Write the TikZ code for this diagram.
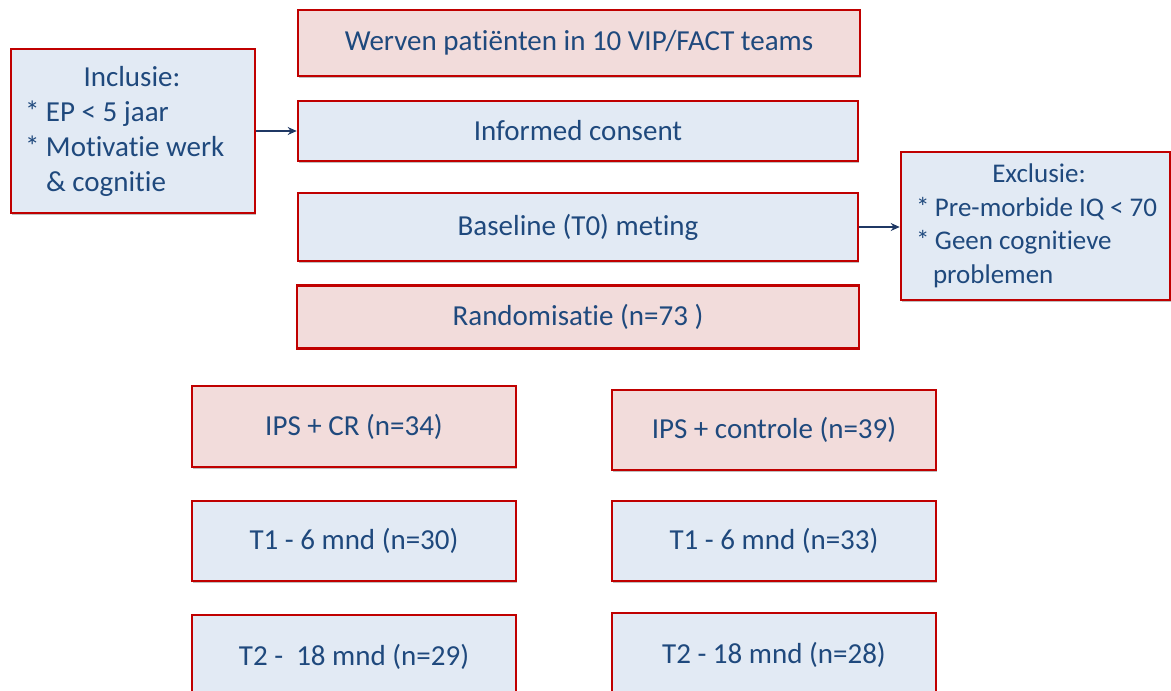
\documentclass[tikz,border=0pt]{standalone}
\usepackage{fontspec}
\setmainfont{Carlito}[Ligatures=NoCommon]
\usetikzlibrary{shadows,arrows.meta}
\definecolor{bord}{HTML}{C00000}
\definecolor{pinkf}{HTML}{F2DCDB}
\definecolor{bluef}{HTML}{E2EAF4}
\definecolor{txt}{HTML}{1F497D}
\definecolor{arrowc}{HTML}{1F3864}
\newcommand{\blt}[1]{\makebox[#1][l]{*}}
\begin{document}
\begin{tikzpicture}[x=1pt,y=-1pt,
  box/.style={draw=bord, line width=2.6pt, text=txt, inner sep=0pt,
    font=\fontsize{29}{35}\selectfont,
    drop shadow={shadow xshift=1.2pt, shadow yshift=-1.5pt, fill=black, opacity=0.25}},
  pinkbox/.style={box, fill=pinkf},
  bluebox/.style={box, fill=bluef},
  conn/.style={draw=arrowc, line width=1.3pt, -{Stealth[length=9pt,width=8pt]}}]
\useasboundingbox (0,0) rectangle (1171,691);
% central column
\node[pinkbox, minimum width=562pt, minimum height=66pt] (werven) at (579,43) {Werven patiënten in 10 VIP/FACT teams};
\node[bluebox, minimum width=560pt, minimum height=60pt] (consent) at (578,131) {Informed consent};
\node[bluebox, minimum width=560pt, minimum height=68pt] (base) at (578,227) {Baseline (T0) meting};
\node[pinkbox, minimum width=562pt, minimum height=63pt] (rand) at (578,317) {Randomisatie (n=73 )};
% side boxes
\node[bluebox, minimum width=244pt, minimum height=164pt, text width=216pt, align=flush left] (incl) at (133,131)
  {\makebox[214pt]{Inclusie:}\\\mbox{\blt{21pt}EP < 5 jaar}\\\mbox{\blt{21pt}Motivatie werk}\\\mbox{\hspace{21pt}\& cognitie}};
\node[bluebox, minimum width=269pt, minimum height=148pt, text width=239pt, align=flush left,
  font=\fontsize{27}{33.5}\selectfont] (excl) at (1035.5,226)
  {\makebox[246pt]{Exclusie:}\\\mbox{\blt{19pt}Pre-morbide IQ < 70}\\\mbox{\blt{19pt}Geen cognitieve}\\\mbox{\hspace{17pt}problemen}};
% arms
\node[pinkbox, minimum width=324pt, minimum height=81pt] (ipscr) at (354,426.5) {IPS + CR (n=34)};
\node[pinkbox, minimum width=324pt, minimum height=80pt] (ipsc) at (774,430) {IPS + controle (n=39)};
\node[bluebox, minimum width=324pt, minimum height=80pt] (t1l) at (354,541) {T1 - 6 mnd (n=30)};
\node[bluebox, minimum width=324pt, minimum height=80pt] (t1r) at (774,541) {T1 - 6 mnd (n=33)};
\node[bluebox, minimum width=324pt, minimum height=84pt] (t2l) at (354,657) {T2 -~~18 mnd (n=29)};
\node[bluebox, minimum width=324pt, minimum height=84pt] (t2r) at (774,655) {T2 - 18 mnd (n=28)};
% connectors
\draw[conn] (incl.east) -- (consent.west);
\draw[conn] (base.east) -- (base.east -| excl.west);
\end{tikzpicture}
\end{document}
